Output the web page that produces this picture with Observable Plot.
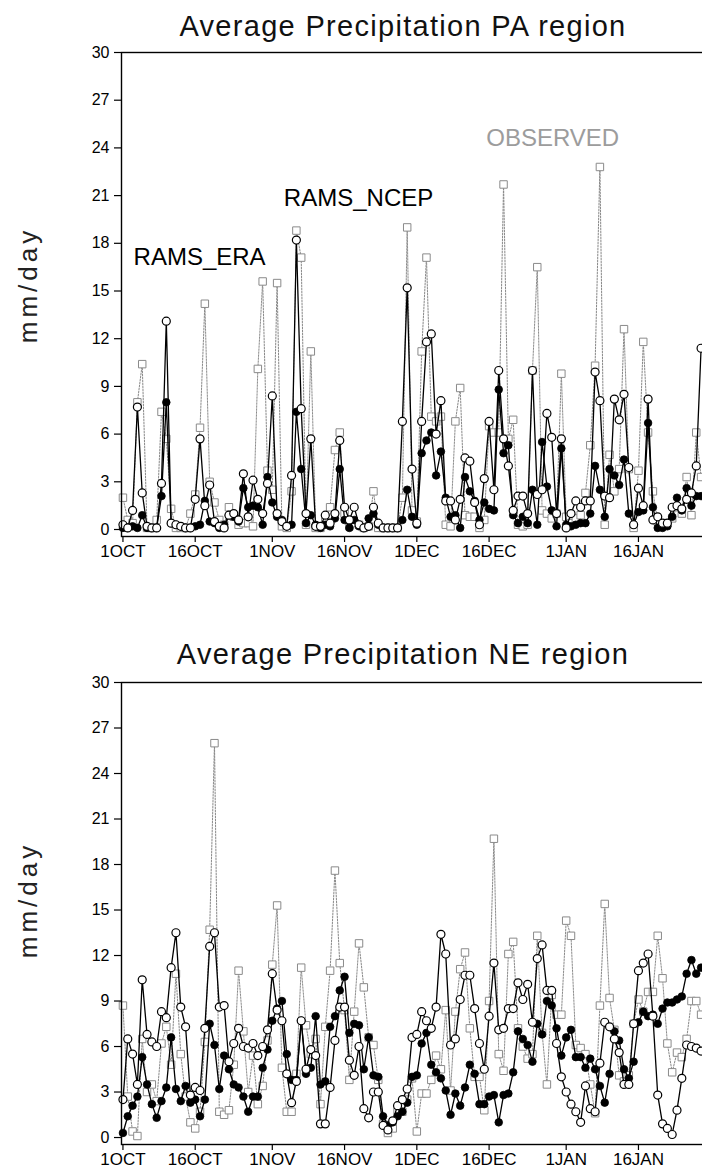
<!DOCTYPE html>
<html><head><meta charset="utf-8">
<script src="https://cdn.jsdelivr.net/npm/d3@7"></script>
<script src="https://cdn.jsdelivr.net/npm/@observablehq/plot@0.6"></script>
<style>
html,body{margin:0;padding:0;background:#fff;}
#wrap{position:relative;width:702px;height:1172px;overflow:hidden;background:#fff;font-family:"Liberation Sans",Arial,sans-serif;color:#000;}
.title{position:absolute;left:0;width:806px;text-align:center;font-size:29px;letter-spacing:1.3px;line-height:30px;white-space:nowrap;color:#111;}
.ylab{position:absolute;width:200px;text-align:center;font-size:26px;letter-spacing:4px;line-height:28px;transform:rotate(-90deg);white-space:nowrap;color:#222;}
svg.panel{position:absolute;left:0;max-width:none !important;width:716px;}
</style></head><body><div id="wrap"></div>
<script>
// ---- data ----
const startDay = "1997-10-01";
const tickDates = ["1997-10-01","1997-10-16","1997-11-01","1997-11-16","1997-12-01","1997-12-16","1998-01-01","1998-01-16"];
const tickLabels = ["1OCT","16OCT","1NOV","16NOV","1DEC","16DEC","1JAN","16JAN"];
const yTicks = [0,3,6,9,12,15,18,21,24,27,30];
const seriesNames = ["RAMS_ERA","RAMS_NCEP","OBSERVED"];
const panelTitles = ["Average Precipitation PA region","Average Precipitation NE region"];
const yLabel = "mm/day";

// PA region (daily, 1 Oct onward)
const paEra = [0.1,0.1,0.2,0.1,0.9,0.1,0.1,0.1,2.1,8.0,
 0.4,0.3,0.2,0.1,0.1,0.2,0.3,1.8,0.5,0.4,
 0.1,0.3,0.9,0.8,0.5,2.6,1.4,1.5,1.4,0.3,
 3.3,1.7,0.8,0.6,0.2,0.3,7.4,3.8,0.4,0.9,
 0.3,0.1,0.3,0.2,0.7,3.8,0.6,0.1,0.6,0.2,
 0.1,0.7,1.0,0.3,0.1,0.1,0.1,0.1,0.6,2.5,
 0.8,0.3,4.8,5.6,6.1,3.4,4.9,2.0,0.8,0.9,
 0.1,3.3,2.4,1.8,0.6,1.7,1.3,1.2,8.8,4.8,
 5.3,0.9,0.4,0.8,0.4,2.5,0.3,5.5,2.7,1.2,
 0.2,5.1,0.3,0.2,0.3,0.4,0.4,1.0,4.0,2.5,
 0.8,3.8,3.4,2.8,4.4,1.0,0.3,1.1,1.2,6.7,
 1.4,0.1,0.1,0.2,0.8,2.0,1.2,2.6,1.5,2.1,
 2.1];
const paNcep = [0.3,0.1,1.2,7.7,2.3,0.2,0.1,0.1,2.9,13.1,
 0.4,0.3,0.2,0.1,0.1,1.9,5.7,1.5,2.8,0.5,
 0.2,0.1,0.9,1.0,0.6,3.5,0.8,3.1,1.9,1.0,
 2.9,8.4,1.0,0.5,0.2,3.4,18.2,7.6,1.0,5.7,
 0.2,0.2,0.9,0.4,1.0,5.6,1.4,0.6,1.4,0.3,
 0.1,0.2,1.4,0.4,0.1,0.1,0.1,0.1,6.8,15.2,
 3.8,0.4,6.8,11.8,12.3,6.0,8.1,1.8,1.8,0.6,
 1.9,4.5,4.3,1.7,0.3,3.2,6.8,2.5,10.0,5.7,
 4.0,1.2,2.1,2.1,1.0,10.0,2.2,2.5,7.3,5.8,
 1.0,5.7,0.1,1.0,1.8,1.4,1.8,1.8,9.9,8.1,
 2.1,2.0,8.2,6.9,8.5,3.9,0.3,2.6,1.5,8.2,
 0.6,0.8,0.4,0.4,1.4,1.5,1.3,1.9,2.3,4.0,
 11.4];
const paObs = [2.0,0.6,0.4,8.0,10.4,0.1,0.1,0.6,7.4,5.7,
 1.3,0.1,0.1,0.1,1.0,2.2,6.4,14.2,3.0,1.7,
 0.6,0.3,1.4,0.8,0.3,0.4,0.4,0.2,10.1,15.6,
 3.7,2.5,15.5,0.2,0.1,2.4,18.8,17.1,0.3,11.2,
 0.1,0.1,0.5,1.4,5.0,6.1,1.0,0.2,0.4,0.3,
 0.1,0.2,2.4,0.1,0.1,0.1,0.1,0.1,2.0,19.0,
 1.2,0.5,11.2,17.1,7.1,6.8,7.1,0.3,0.2,6.8,
 8.9,0.9,0.8,0.8,0.1,0.6,6.5,6.1,6.1,21.7,
 5.7,6.9,0.3,0.2,0.3,10.0,16.5,1.2,1.0,0.7,
 1.0,9.8,0.8,0.4,0.7,0.9,2.3,5.3,10.3,22.8,
 0.3,4.7,2.4,3.8,12.6,3.8,0.1,3.7,11.8,6.1,
 2.4,0.5,0.3,0.4,0.7,1.4,1.0,3.3,0.9,6.1,
 3.3];

// NE region
const neEra = [0.3,1.4,2.1,2.7,5.3,3.5,2.2,1.3,2.4,3.3,
 6.6,3.2,2.4,3.4,2.3,2.5,1.4,2.5,7.5,6.1,
 3.2,5.4,4.5,3.5,3.3,2.7,1.7,2.7,2.7,4.6,
 5.8,7.7,8.5,9.0,5.5,3.8,3.8,7.7,4.2,4.6,
 8.0,3.5,3.7,7.3,8.0,9.7,10.6,6.9,7.5,7.4,
 4.5,6.6,4.1,4.0,1.4,0.8,1.0,1.4,1.7,2.3,
 4.0,4.1,6.2,6.9,4.8,4.3,3.9,3.1,1.5,2.9,
 2.1,3.3,4.8,4.2,2.2,2.2,2.7,2.8,1.0,2.8,
 2.9,4.3,7.0,6.5,6.1,5.0,7.5,6.8,9.0,8.7,
 7.2,5.4,6.6,7.1,5.3,5.3,4.6,5.2,4.5,3.4,
 2.3,4.2,7.0,6.4,4.5,3.9,5.0,7.6,8.3,8.0,
 8.1,7.5,8.5,8.9,8.9,9.1,9.3,10.8,11.7,10.8,
 11.2];
const neNcep = [2.5,6.5,5.5,3.5,10.4,6.8,6.3,6.0,8.3,7.9,
 11.2,13.5,8.6,7.3,2.8,3.3,3.1,7.2,12.6,13.5,
 8.6,8.7,5.0,6.2,7.2,6.0,5.9,6.2,5.4,6.0,
 7.1,10.8,8.4,7.7,4.2,2.3,3.7,7.7,4.5,5.8,
 5.4,0.9,0.9,3.3,6.4,8.6,8.6,5.1,4.1,6.0,
 1.9,1.3,3.0,3.0,0.8,0.5,1.1,2.1,2.5,3.2,
 6.6,6.8,8.3,7.7,7.2,8.6,13.4,12.1,6.1,6.5,
 9.1,10.7,10.7,8.5,6.2,4.5,8.0,11.5,7.1,7.2,
 8.5,8.5,10.2,9.1,10.1,7.6,11.8,12.7,9.7,9.7,
 6.2,4.0,3.0,2.2,1.7,1.0,3.4,1.9,1.7,4.9,
 7.6,7.3,6.5,5.6,3.5,3.5,7.5,11.0,11.5,12.1,
 8.0,2.8,0.9,0.6,0.2,1.8,3.9,6.1,6.0,5.9,
 5.7];
const neObs = [8.7,2.7,0.4,0.1,6.5,3.0,3.5,2.4,6.2,7.3,
 4.8,10.8,5.5,2.7,1.0,0.6,1.7,6.3,13.7,26.0,
 1.7,1.5,1.8,4.8,11.0,7.0,3.0,5.4,2.2,3.4,
 6.4,11.4,15.3,4.6,1.7,1.7,4.2,11.2,7.4,5.5,
 6.5,2.2,7.3,11.0,17.6,11.5,8.4,3.8,8.3,12.8,
 9.9,6.6,6.1,3.8,0.9,0.3,0.6,1.7,1.7,2.5,
 3.9,0.4,2.9,2.9,3.8,5.4,4.5,8.4,3.1,8.3,
 11.1,12.2,7.2,4.0,4.0,1.8,9.0,19.7,5.5,4.4,
 12.1,12.9,7.2,6.0,5.2,5.5,13.3,6.9,3.5,9.4,
 8.1,8.1,14.3,13.3,6.1,5.9,5.5,3.5,1.6,8.7,
 15.4,9.2,7.1,4.1,3.7,4.1,7.5,9.1,8.3,9.6,
 9.6,13.3,10.5,6.2,4.3,5.6,5.3,6.5,9.0,9.0,
 8.1];

// in-chart series labels (top panel): day offset from 1 Oct and value
const annoLabels = ["RAMS_ERA","RAMS_NCEP","OBSERVED"];
const annoDays = [2.2, 33.4, 75.4];
const annoValues = [17.1, 20.8, 24.6];

// ---- drawing ----
const DAY = 864e5;
const t0 = new Date(startDay + "T00:00:00Z");
const dateAt = (d) => new Date(+t0 + d * DAY);
const ticks = tickDates.map(s => new Date(s + "T00:00:00Z"));
const tickFmt = new Map(ticks.map((d, i) => [+d, tickLabels[i]]));

function rows(arr, name) {
  return arr.map((v, i) => ({date: dateAt(i), value: v, series: name}));
}

function panel({era, ncep, obs, height, mTop, mBottom, yMin, annos}) {
  const E = rows(era, seriesNames[0]);
  const N = rows(ncep, seriesNames[1]);
  const O = rows(obs, seriesNames[2]);
  const marks = [
    Plot.line(O, {x: "date", y: "value", stroke: "#8a8a8a", strokeWidth: 1, strokeDasharray: "1.6,1.4"}),
    Plot.dot(O, {x: "date", y: "value", symbol: "square", r: 4.2, stroke: "#8a8a8a", fill: "white", strokeWidth: 1}),
    Plot.line(E, {x: "date", y: "value", stroke: "black", strokeWidth: 1.3}),
    Plot.dot(E, {x: "date", y: "value", r: 3.8, fill: "black", stroke: "black", strokeWidth: 0.8}),
    Plot.line(N, {x: "date", y: "value", stroke: "black", strokeWidth: 1.3}),
    Plot.dot(N, {x: "date", y: "value", r: 4, fill: "white", stroke: "black", strokeWidth: 1.2}),
    Plot.frame({stroke: "black", strokeWidth: 1.4}),
    Plot.axisY({ticks: yTicks, tickSize: 7, tickPadding: 5, fontSize: 16, label: null, strokeWidth: 1.2}),
    Plot.axisX({ticks: ticks, tickFormat: d => tickFmt.get(+d), tickSize: 6, tickPadding: 2, fontSize: 17, label: null, strokeWidth: 1.2})
  ];
  if (annos) {
    marks.push(Plot.text(annos, {
      x: "date", y: "value", text: "label", textAnchor: "start", lineAnchor: "middle",
      fontSize: 24, fill: d => d.label === "OBSERVED" ? "#9c9c9c" : "black"
    }));
  }
  return Plot.plot({
    width: 716, height, marginLeft: 121, marginRight: 0, marginTop: mTop, marginBottom: mBottom,
    x: {type: "utc", domain: [dateAt(-0.3), dateAt(123.2)]},
    y: {domain: [yMin, 30]},
    style: {background: "transparent", color: "black", fontFamily: "'Liberation Sans', Arial, sans-serif", overflow: "visible", maxWidth: "none"},
    marks
  });
}

const wrap = document.getElementById("wrap");
const annos = annoLabels.map((l, i) => ({label: l, date: dateAt(annoDays[i]), value: annoValues[i]}));

const p1 = panel({era: paEra, ncep: paNcep, obs: paObs, height: 575, mTop: 52, mBottom: 39, yMin: -0.44, annos});
p1.classList.add("panel"); p1.style.top = "0px"; p1.style.maxWidth = "none"; p1.style.height = "575px";
wrap.appendChild(p1);

const p2 = panel({era: neEra, ncep: neNcep, obs: neObs, height: 572, mTop: 82, mBottom: 28, yMin: -0.46});
p2.classList.add("panel"); p2.style.top = "600px"; p2.style.maxWidth = "none"; p2.style.height = "572px";
wrap.appendChild(p2);

function addTitle(text, baseline) {
  const d = document.createElement("div");
  d.className = "title"; d.textContent = text;
  d.style.top = (baseline - 24.5) + "px";
  wrap.appendChild(d);
}
addTitle(panelTitles[0], 35);
addTitle(panelTitles[1], 663);

function addYLabel(cy) {
  const d = document.createElement("div");
  d.className = "ylab"; d.textContent = yLabel;
  d.style.left = (28 - 100) + "px";
  d.style.top = (cy - 14) + "px";
  wrap.appendChild(d);
}
addYLabel(285);
addYLabel(900);
</script></body></html>
